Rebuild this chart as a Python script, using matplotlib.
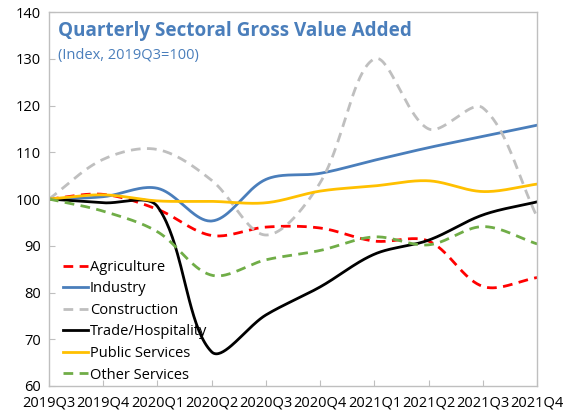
import numpy as np
import matplotlib
matplotlib.use('Agg')
import matplotlib.pyplot as plt

plt.rcParams['font.family'] = ['Open Sans', 'DejaVu Sans']

quarters = ['2019Q3', '2019Q4', '2020Q1', '2020Q2', '2020Q3',
            '2020Q4', '2021Q1', '2021Q2', '2021Q3', '2021Q4']

agriculture = [100, 101.0, 97.8, 92.2, 94.0, 93.8, 91.0, 91.0, 81.3, 83.2]
industry = [100, 100.5, 102.3, 95.3, 104.2, 105.5, 108.3, 111.0, 113.4, 115.8]
construction = [100, 108.5, 110.6, 104.0, 92.3, 103.5, 130.0, 115.0, 119.5, 96.2]
trade = [100, 99.2, 98.4, 67.3, 75.2, 81.2, 88.2, 91.2, 96.6, 99.4]
public = [100, 100.9, 99.6, 99.5, 99.2, 101.7, 102.8, 103.9, 101.6, 103.2]
other = [100, 97.4, 93.0, 83.7, 87.0, 89.0, 91.9, 90.2, 94.1, 90.4]

series = [
    ('Agriculture', agriculture, '#FF0000', 'dash'),
    ('Industry', industry, '#4A7EBB', 'solid'),
    ('Construction', construction, '#BFBFBF', 'dash'),
    ('Trade/Hospitality', trade, '#000000', 'solid'),
    ('Public Services', public, '#FFC000', 'solid'),
    ('Other Services', other, '#70AD47', 'dash'),
]

# pixel scale of the axes, used so the smoothing behaves like Excel's
PX_PER_CAT = 54.2
PX_PER_UNIT = 4.675


# Bezier smoothing with control points scaled by segment length (Excel style)
def smooth(y, n=40):
    y = np.asarray(y, dtype=float)
    x = np.arange(len(y), dtype=float)
    P = np.column_stack([x * PX_PER_CAT, y * PX_PER_UNIT])
    N = len(P)
    d = np.linalg.norm(np.diff(P, axis=0), axis=1)
    t = np.linspace(0, 1, n, endpoint=False)[:, None]
    pts = []
    for i in range(N - 1):
        p1, p2 = P[i], P[i + 1]
        if i == 0:
            c1 = p1 + (p2 - p1) / 3
        else:
            c1 = p1 + (p2 - P[i - 1]) * d[i] / (d[i - 1] + d[i]) / 3
        if i == N - 2:
            c2 = p2 - (p2 - p1) / 3
        else:
            c2 = p2 - (P[i + 2] - p1) * d[i] / (d[i] + d[i + 1]) / 3
        b = ((1 - t)**3 * p1 + 3 * (1 - t)**2 * t * c1
             + 3 * (1 - t) * t**2 * c2 + t**3 * p2)
        pts.append(b)
    pts.append(P[-1:])
    pts = np.vstack(pts)
    return pts[:, 0] / PX_PER_CAT, pts[:, 1] / PX_PER_UNIT


fig = plt.figure(figsize=(5.63, 4.15), dpi=100)
ax = fig.add_axes([0.087, 0.0699, 0.867, 0.901])

for name, vals, color, style in series:
    sx, sy = smooth(vals)
    if style == 'dash':
        ax.plot(sx, sy, color=color, lw=2, label=name, dashes=(3.5, 2.3))
    else:
        ax.plot(sx, sy, color=color, lw=2, label=name)

ax.set_xlim(0, len(quarters) - 1)
ax.set_ylim(60, 140)
ax.set_xticks(range(len(quarters)))
ax.set_xticklabels(quarters)
ax.set_yticks(range(60, 141, 10))
ax.tick_params(axis='both', direction='in', length=4, color='#BFBFBF',
               labelsize=10.5, labelcolor='#000000', pad=6)
ax.tick_params(axis='x', pad=7)
for sp in ax.spines.values():
    sp.set_color('#BFBFBF')
    sp.set_linewidth(1)

ax.text(0.018, 0.975, 'Quarterly Sectoral Gross Value Added', transform=ax.transAxes,
        fontsize=13.6, fontweight='bold', color='#4A7EBB', va='top', ha='left')
ax.text(0.018, 0.905, '(Index, 2019Q3=100)', transform=ax.transAxes,
        fontsize=10.5, color='#4A7EBB', va='top', ha='left')

ax.legend(loc='upper left', bbox_to_anchor=(0.008, 0.365), frameon=False,
          fontsize=10.5, handlelength=1.7, handletextpad=0.15,
          labelspacing=0.45, borderaxespad=0.3)

fig.savefig('out.png', dpi=100)
